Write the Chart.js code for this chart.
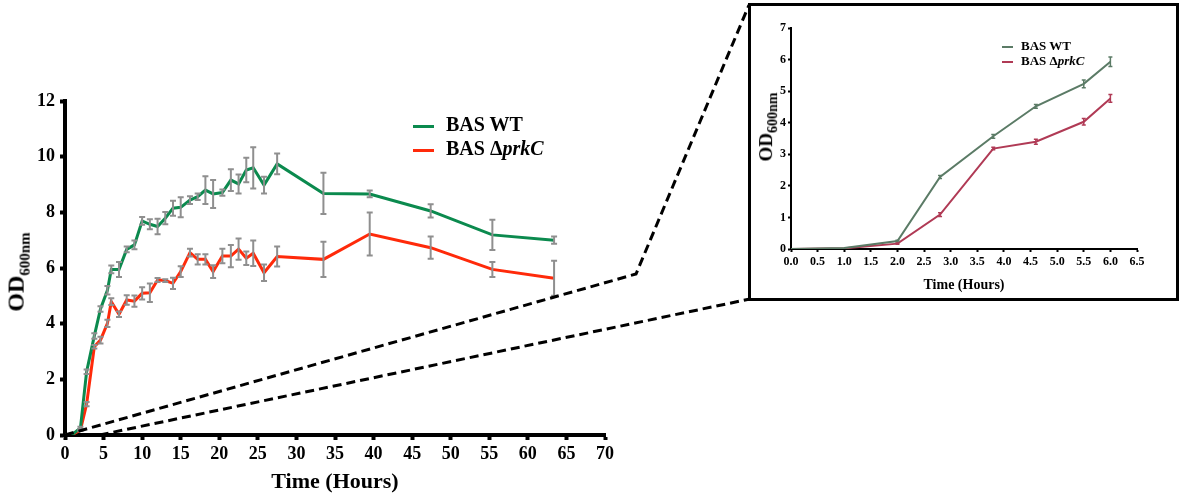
<!DOCTYPE html>
<html>
<head>
<meta charset="utf-8">
<title>Growth curve BAS WT vs prkC</title>
<script src="https://cdn.jsdelivr.net/npm/chart.js@4.4.0/dist/chart.umd.min.js"></script>
<style>
  body { margin: 0; background: #fff; }
  #wrap { position: relative; width: 1184px; height: 502px; font-family: "Liberation Serif", "Times New Roman", serif; font-weight: bold; color: #000; }
  canvas { position: absolute; }
  .ytitle { position: absolute; white-space: nowrap; transform: translate(-50%, -50%) rotate(-90deg); line-height: 1; }
  .legend { position: absolute; white-space: nowrap; line-height: 1; }
  .legend span.swatch { display: inline-block; vertical-align: middle; }
  #insetBox { position: absolute; left: 748px; top: 3px; width: 425px; height: 292px; border: 3px solid #000; background: #fff; }
</style>
</head>
<body>
<div id="wrap">
  <canvas id="mainChart" width="1184" height="502" style="left:0;top:0"></canvas>
  <div class="ytitle" style="left:18px;top:272px;font-size:24px">OD<sub style="font-size:15px">600nm</sub></div>
  <div class="legend" style="left:413px;top:114px;font-size:20px">
    <div style="height:24px"><span class="swatch" style="width:21px;height:3px;background:#0b8a4e;margin-right:12px"></span>BAS WT</div>
    <div style="height:24px"><span class="swatch" style="width:21px;height:3px;background:#ff2a0a;margin-right:12px"></span>BAS Δ<i>prkC</i></div>
  </div>
  <div id="insetBox"></div>
  <canvas id="insetChart" width="425" height="292" style="left:751px;top:6px"></canvas>
  <div class="ytitle" style="left:768px;top:127px;font-size:19px">OD<sub style="font-size:14px">600nm</sub></div>
  <div class="legend" style="left:1002px;top:39px;font-size:13px">
    <div style="height:15px"><span class="swatch" style="width:11px;height:2px;background:#5b7b66;margin-right:8px"></span>BAS WT</div>
    <div style="height:15px"><span class="swatch" style="width:11px;height:2px;background:#b03a55;margin-right:8px"></span>BAS Δ<i>prkC</i></div>
  </div>
</div>
<script>
// main growth curve, 0 - 64 h
const hours = [0, 1, 2, 2.8, 3.8, 4.6, 5.5, 6, 7, 8, 9, 10, 11, 12, 13, 14, 15, 16.2, 17.2, 18.2, 19.2, 20.4, 21.5, 22.5, 23.5, 24.4, 25.8, 27.5, 33.5, 39.5, 47.4, 55.4, 63.4];
const wtOD = [0, 0.03, 0.25, 2.27, 3.56, 4.53, 5.2, 5.95, 5.95, 6.67, 6.83, 7.69, 7.57, 7.49, 7.79, 8.15, 8.18, 8.44, 8.56, 8.8, 8.66, 8.71, 9.16, 9.02, 9.52, 9.6, 8.98, 9.74, 8.68, 8.66, 8.05, 7.19, 7.0];
const wtErr = [0, 0, 0.05, 0.08, 0.1, 0.1, 0.15, 0.14, 0.27, 0.1, 0.16, 0.14, 0.18, 0.28, 0.22, 0.27, 0.36, 0.14, 0.12, 0.5, 0.5, 0.11, 0.39, 0.34, 0.44, 0.74, 0.3, 0.37, 0.74, 0.12, 0.24, 0.54, 0.13];
const prkcOD = [0, 0.02, 0.18, 1.11, 3.17, 3.41, 4.01, 4.79, 4.34, 4.85, 4.81, 5.09, 5.11, 5.57, 5.55, 5.45, 5.87, 6.55, 6.31, 6.31, 5.87, 6.43, 6.43, 6.68, 6.35, 6.53, 5.83, 6.41, 6.31, 7.22, 6.73, 5.95, 5.63];
const prkcErr = [0, 0, 0.04, 0.08, 0.06, 0.12, 0.13, 0.12, 0.1, 0.17, 0.2, 0.22, 0.33, 0.07, 0.05, 0.2, 0.19, 0.14, 0.18, 0.18, 0.23, 0.26, 0.4, 0.38, 0.24, 0.46, 0.3, 0.36, 0.63, 0.77, 0.4, 0.27, 0.63];

// inset, first 6 h
const insetHours = [0, 1, 2, 2.8, 3.8, 4.6, 5.5, 6];
const insetWt = [0, 0.03, 0.25, 2.28, 3.57, 4.52, 5.23, 5.93];
const insetWtErr = [0, 0, 0.03, 0.05, 0.06, 0.06, 0.12, 0.15];
const insetPrkc = [0, 0.02, 0.17, 1.09, 3.18, 3.4, 4.03, 4.77];
const insetPrkcErr = [0, 0, 0.02, 0.06, 0.04, 0.08, 0.1, 0.12];

const zoomEnd = 4.5; // where the lower zoom line leaves the x axis

const GREEN = "#0b8a4e";
const RED = "#ff2a0a";
const GREY = "#8f8f8f";

Chart.defaults.font.family = "'Liberation Serif', 'Times New Roman', serif";
Chart.defaults.font.weight = "bold";
Chart.defaults.color = "#000";

function toPoints(xs, ys) {
  return xs.map(function (x, i) {
    return { x: x, y: ys[i] };
  });
}

const errorBars = {
  id: "errorBars",
  afterDatasetsDraw(chart) {
    const ctx = chart.ctx;
    const xs = chart.scales.x;
    const ys = chart.scales.y;
    chart.data.datasets.forEach(function (ds) {
      if (!ds.errors) return;
      ctx.save();
      ctx.strokeStyle = ds.errorColor;
      ctx.lineWidth = ds.errorWidth;
      ds.data.forEach(function (pt, i) {
        const e = ds.errors[i];
        if (!e) return;
        const x = xs.getPixelForValue(pt.x);
        const top = ys.getPixelForValue(pt.y + e);
        const bot = ys.getPixelForValue(pt.y - e);
        const c = ds.capHalf;
        ctx.beginPath();
        ctx.moveTo(x, top);
        ctx.lineTo(x, bot);
        ctx.moveTo(x - c, top);
        ctx.lineTo(x + c, top);
        ctx.moveTo(x - c, bot);
        ctx.lineTo(x + c, bot);
        ctx.stroke();
      });
      ctx.restore();
    });
  },
};

// dashed lines from the main axis to the inset box
const zoomLines = {
  id: "zoomLines",
  afterDraw(chart) {
    const ctx = chart.ctx;
    const y0 = chart.scales.y.getPixelForValue(0);
    const xa = chart.scales.x.getPixelForValue(0);
    const xb = chart.scales.x.getPixelForValue(zoomEnd);
    ctx.save();
    ctx.setLineDash([9, 5]);
    ctx.lineWidth = 3;
    ctx.strokeStyle = "#000";
    ctx.beginPath();
    ctx.moveTo(xa, y0);
    ctx.lineTo(636, 274);
    ctx.lineTo(749, 5);
    ctx.stroke();
    ctx.beginPath();
    ctx.moveTo(xb, y0);
    ctx.lineTo(750, 299);
    ctx.stroke();
    ctx.restore();
  },
};

new Chart(document.getElementById("mainChart"), {
  type: "line",
  data: {
    datasets: [
      {
        label: "BAS WT",
        data: toPoints(hours, wtOD),
        borderColor: GREEN,
        borderWidth: 3,
        pointRadius: 0,
        tension: 0,
        errors: wtErr,
        errorColor: GREY,
        errorWidth: 2,
        capHalf: 3,
      },
      {
        label: "BAS ΔprkC",
        data: toPoints(hours, prkcOD),
        borderColor: RED,
        borderWidth: 3,
        pointRadius: 0,
        tension: 0,
        errors: prkcErr,
        errorColor: GREY,
        errorWidth: 2,
        capHalf: 3,
      },
    ],
  },
  options: {
    responsive: false,
    animation: false,
    layout: { padding: { left: 0, top: 101, right: 579, bottom: 0 } },
    plugins: {
      legend: { display: false },
      tooltip: { enabled: false },
    },
    scales: {
      x: {
        type: "linear",
        min: 0,
        max: 70,
        afterFit: function (scale) {
          scale.height = 67;
        },
        ticks: { stepSize: 5, padding: 4, maxRotation: 0, font: { size: 18, weight: "bold" } },
        grid: { drawOnChartArea: false, drawTicks: true, tickLength: 5, tickWidth: 4, tickColor: "#000" },
        border: { width: 4, color: "#000" },
        title: {
          display: true,
          text: "Time (Hours)",
          font: { size: 22, weight: "bold" },
          padding: { top: 0, bottom: 6 },
        },
      },
      y: {
        min: 0,
        max: 12,
        afterFit: function (scale) {
          scale.width = 65;
        },
        ticks: { stepSize: 2, padding: 5, font: { size: 18, weight: "bold" } },
        grid: { drawOnChartArea: false, drawTicks: true, tickLength: 5, tickWidth: 4, tickColor: "#000" },
        border: { width: 4, color: "#000" },
      },
    },
  },
  plugins: [errorBars, zoomLines],
});

new Chart(document.getElementById("insetChart"), {
  type: "line",
  data: {
    datasets: [
      {
        label: "BAS WT",
        data: toPoints(insetHours, insetWt),
        borderColor: "#5b7b66",
        borderWidth: 2,
        pointRadius: 0,
        tension: 0,
        errors: insetWtErr,
        errorColor: "#5b7b66",
        errorWidth: 1.5,
        capHalf: 2,
      },
      {
        label: "BAS ΔprkC",
        data: toPoints(insetHours, insetPrkc),
        borderColor: "#b03a55",
        borderWidth: 2,
        pointRadius: 0,
        tension: 0,
        errors: insetPrkcErr,
        errorColor: "#b03a55",
        errorWidth: 1.5,
        capHalf: 2,
      },
    ],
  },
  options: {
    responsive: false,
    animation: false,
    layout: { padding: { left: 0, top: 22, right: 39, bottom: 0 } },
    plugins: {
      legend: { display: false },
      tooltip: { enabled: false },
    },
    scales: {
      x: {
        type: "linear",
        min: 0,
        max: 6.5,
        afterFit: function (scale) {
          scale.height = 49;
        },
        ticks: {
          stepSize: 0.5,
          padding: 3,
          maxRotation: 0,
          autoSkip: false,
          font: { size: 12, weight: "bold" },
          callback: function (v) {
            return v.toFixed(1);
          },
        },
        grid: { drawOnChartArea: false, drawTicks: true, tickLength: 3, tickWidth: 2, tickColor: "#000" },
        border: { width: 2, color: "#000" },
        title: {
          display: true,
          text: "Time (Hours)",
          font: { size: 14, weight: "bold" },
          padding: { top: 0, bottom: 4 },
        },
      },
      y: {
        min: 0,
        max: 7,
        afterFit: function (scale) {
          scale.width = 40;
        },
        ticks: { stepSize: 1, padding: 2, font: { size: 12, weight: "bold" } },
        grid: { drawOnChartArea: false, drawTicks: true, tickLength: 3, tickWidth: 2, tickColor: "#000" },
        border: { width: 2, color: "#000" },
      },
    },
  },
  plugins: [errorBars],
});
</script>
</body>
</html>
